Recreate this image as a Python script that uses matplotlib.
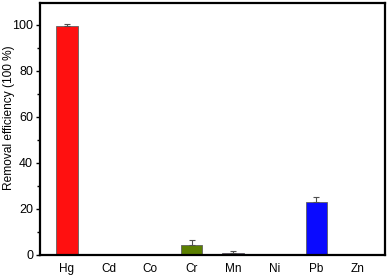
import matplotlib
matplotlib.use('Agg')
import matplotlib.pyplot as plt
from matplotlib.ticker import MultipleLocator

metals = ['Hg', 'Cd', 'Co', 'Cr', 'Mn', 'Ni', 'Pb', 'Zn']
efficiency = [99.3, 0, 0, 4.5, 0.7, 0, 23.1, 0]
errors = [1.2, 0, 0, 2.2, 0.9, 0, 2.0, 0]
colors = ['#ff1010', '#ff1010', '#ff1010', '#5b7f00', '#4a0a8a', '#ff1010', '#0a0aff', '#ff1010']

plt.rcParams['font.family'] = ['Liberation Sans', 'DejaVu Sans']

fig = plt.figure(figsize=(3.88, 2.75), dpi=100)
ax = fig.add_axes([0.103, 0.073, 0.889, 0.916])

x = range(len(metals))
ax.bar(x, efficiency, width=0.52, color=colors, edgecolor='#606060', linewidth=0.6,
       yerr=[[0] * len(errors), errors], error_kw=dict(ecolor='#505050', elinewidth=0.8, capsize=2.5, capthick=0.8))

ax.set_xlim(-0.65, 7.65)
ax.set_ylim(0, 109.5)
ax.set_xticks(list(x))
ax.set_xticklabels(metals, fontsize=8.5)
ax.tick_params(axis='x', length=0, pad=6)
ax.yaxis.set_major_locator(MultipleLocator(20))
ax.yaxis.set_minor_locator(MultipleLocator(10))
ax.tick_params(axis='y', which='major', direction='out', length=3, width=1, labelsize=9, pad=2)
ax.tick_params(axis='y', which='minor', direction='out', length=2, width=1)
ax.set_ylabel('Removal efficiency (100 %)', fontsize=8.6)
ax.yaxis.set_label_coords(-0.072, 0.545)

for s in ax.spines.values():
    s.set_linewidth(1.6)

fig.savefig('out.png', dpi=100)
